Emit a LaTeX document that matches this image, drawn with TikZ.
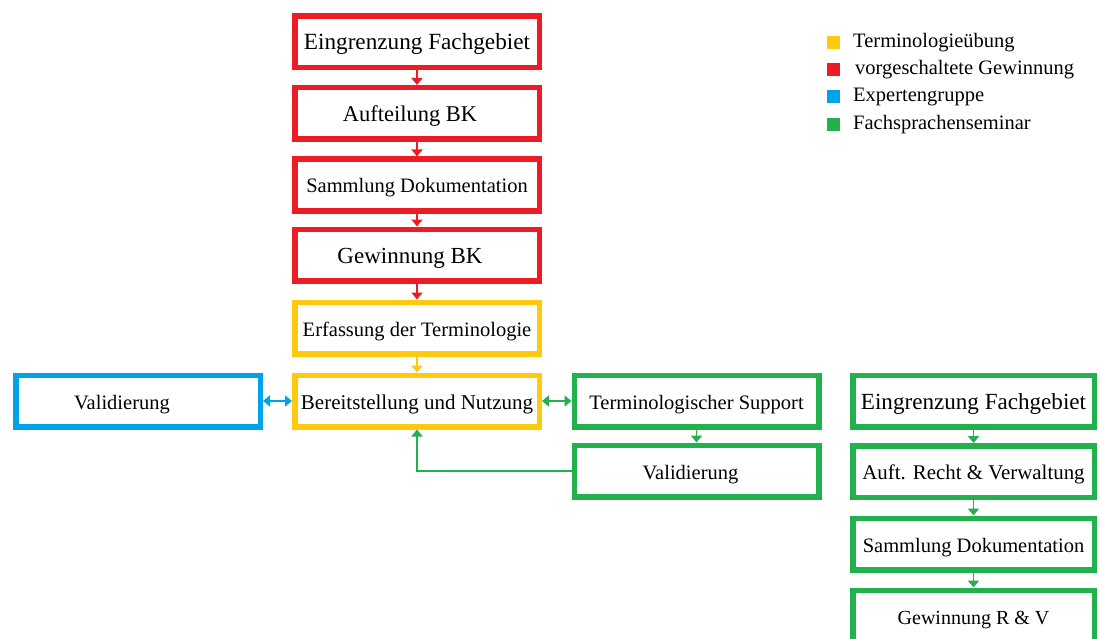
\documentclass[tikz,border=0pt]{standalone}
\usepackage{fontspec}
\setmainfont{Liberation Serif}
\usetikzlibrary{arrows.meta}
\definecolor{cred}{HTML}{ED1C24}
\definecolor{cyel}{HTML}{FFC90E}
\definecolor{cblu}{HTML}{00A2E8}
\definecolor{cgrn}{HTML}{22B14C}
\newcommand\fsz[1]{\fontsize{#1}{#1}\selectfont}
\begin{document}
\begin{tikzpicture}[x=1pt,y=-1pt,
  box/.style={draw, line width=5.5pt, minimum width=244.5pt, minimum height=51.5pt, inner sep=0pt, fill=white, font=\fsz{20.5}, text height=16pt, text depth=0pt},
  rbox/.style={box, draw=cred},
  ybox/.style={box, draw=cyel},
  bbox/.style={box, draw=cblu},
  gbox/.style={box, draw=cgrn},
  conn/.style={line width=1.8pt, -{Triangle[width=11pt,length=7pt]}},
  dconn/.style={line width=1.8pt, {Triangle[width=11pt,length=7pt]}-{Triangle[width=11pt,length=7pt]}},
  legsq/.style={minimum size=13pt, inner sep=0pt},
  legtx/.style={anchor=west, inner sep=0pt, font=\fsz{20.5}}
]
\useasboundingbox (0,0) rectangle (1099,639);
\clip (0,0) rectangle (1099,639);
\fill[white] (0,0) rectangle (1099,639);

% red column
\node[rbox, font=\fsz{23.2}] (r1) at (417,42) {Eingrenzung Fachgebiet};
\node[rbox, font=\fsz{22.5}] (r2) at (417,113.5) {Aufteilung BK\hspace*{14pt}};
\node[rbox] (r3) at (417,185) {Sammlung Dokumentation};
\node[rbox, font=\fsz{23}] (r4) at (417,255) {Gewinnung BK\hspace*{14pt}};
\node[ybox] (y1) at (417,328) {Erfassung der Terminologie};
\node[ybox, font=\fsz{21}] (y2) at (417,401) {Bereitstellung und Nutzung};

% left and middle
\node[bbox] (v1) at (138,401) {Validierung\hspace*{32pt}};
\node[gbox] (ts) at (696.5,401) {Terminologischer Support};
\node[gbox] (v2) at (696.5,471) {Validierung\hspace*{12pt}};

% right column
\node[gbox, minimum width=241.5pt, font=\fsz{23.1}] (g1) at (973.5,401) {Eingrenzung Fachgebiet};
\node[gbox, minimum width=241.5pt, font=\fsz{20.9}] (g2) at (973.5,471.5) {Auft. Recht \& Verwaltung};
\node[gbox, minimum width=241.5pt] (g3) at (973.5,544) {Sammlung Dokumentation};
\node[gbox, minimum width=241.5pt, font=\fsz{20}] (g4) at (973.5,616) {Gewinnung R \& V};

% connectors
\draw[conn, cred] (r1) -- (r2);
\draw[conn, cred] (r2) -- (r3);
\draw[conn, cred] (r3) -- (r4);
\draw[conn, cred] (r4) -- (y1);
\draw[conn, cyel] (y1) -- (y2);
\draw[dconn, cblu] (v1) -- (y2);
\draw[dconn, cgrn] (y2) -- (ts);
\draw[conn, cgrn] (ts) -- (v2);
\draw[conn, cgrn] (v2.west) -| (y2.south);
\draw[conn, cgrn] (g1) -- (g2);
\draw[conn, cgrn] (g2) -- (g3);
\draw[conn, cgrn] (g3) -- (g4);

% legend
\node[legsq, fill=cyel] (l1) at (833,42.5) {};
\node[legsq, fill=cred] (l2) at (833,70) {};
\node[legsq, fill=cblu] (l3) at (833,97) {};
\node[legsq, fill=cgrn] (l4) at (833,124.5) {};
\node[legtx] (t1) at (853,42.5) {Terminologieübung};
\node[legtx] (t2) at (855,70) {vorgeschaltete Gewinnung};
\node[legtx] (t3) at (853,97) {Expertengruppe};
\node[legtx] (t4) at (853,124.5) {Fachsprachenseminar};
\end{tikzpicture}
\end{document}
